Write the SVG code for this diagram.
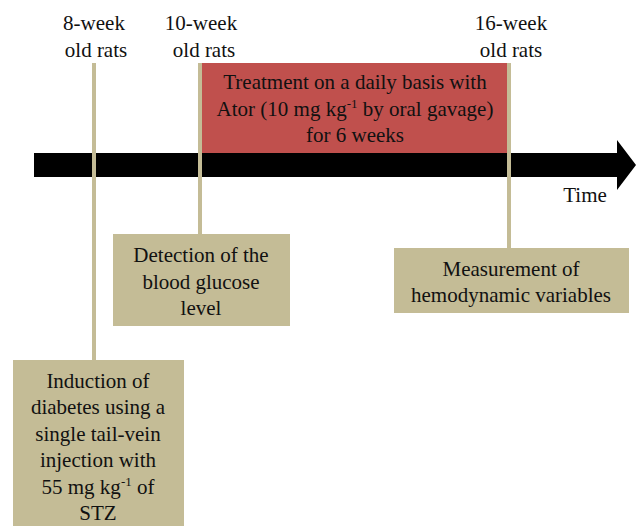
<svg xmlns="http://www.w3.org/2000/svg" width="636" height="526" viewBox="0 0 636 526">
<style>
.box{fill:#c4bc96}
.ln{stroke:#c4bc96;stroke-width:4;fill:none}
</style>
<rect width="636" height="526" fill="#fff"/>
<g font-size="21" fill="#111" text-anchor="middle">
<g id="treatment">
<rect x="201" y="63" width="308" height="92" fill="#c0504d"/>
<text font-family="Liberation Serif" x="355" y="89">Treatment on a daily basis with</text>
<text font-family="Liberation Serif" x="355" y="116">Ator (10 mg kg<tspan font-size="13" dy="-8">-1</tspan><tspan dy="8"> by oral gavage)</tspan></text>
<text font-family="Liberation Serif" x="355" y="142">for 6 weeks</text>
</g>
<g id="timeline">
<polygon points="34,153 617,153 617,140 636,165 617,190 617,177 34,177" fill="#000"/>
<text font-family="Liberation Serif" x="585" y="202">Time</text>
</g>
<g id="connectors">
<line class="ln" x1="94" y1="63" x2="94" y2="361"/>
<line class="ln" x1="200" y1="63" x2="200" y2="235"/>
<line class="ln" x1="509" y1="63" x2="509" y2="249"/>
</g>
<g id="label8">
<text font-family="Liberation Serif" x="94" y="30">8-week</text>
<text font-family="Liberation Serif" x="96" y="57">old rats</text>
</g>
<g id="label10">
<text font-family="Liberation Serif" x="201" y="30">10-week</text>
<text font-family="Liberation Serif" x="204" y="57">old rats</text>
</g>
<g id="label16">
<text font-family="Liberation Serif" x="511" y="30">16-week</text>
<text font-family="Liberation Serif" x="511" y="57">old rats</text>
</g>
<g id="detection">
<rect class="box" x="113" y="234" width="177" height="92"/>
<text font-family="Liberation Serif" x="201" y="262">Detection of the</text>
<text font-family="Liberation Serif" x="201" y="289">blood glucose</text>
<text font-family="Liberation Serif" x="201" y="315">level</text>
</g>
<g id="induction">
<rect class="box" x="13" y="360" width="171" height="166"/>
<text font-family="Liberation Serif" x="98" y="388">Induction of</text>
<text font-family="Liberation Serif" x="98" y="414">diabetes using a</text>
<text font-family="Liberation Serif" x="98" y="441">single tail-vein</text>
<text font-family="Liberation Serif" x="98" y="467">injection with</text>
<text font-family="Liberation Serif" x="98" y="494">55 mg kg<tspan font-size="13" dy="-8">-1</tspan><tspan dy="8"> of</tspan></text>
<text font-family="Liberation Serif" x="98" y="520">STZ</text>
</g>
<g id="measurement">
<rect class="box" x="394" y="248" width="235" height="65"/>
<text font-family="Liberation Serif" x="511" y="276">Measurement of</text>
<text font-family="Liberation Serif" x="511" y="302">hemodynamic variables</text>
</g>
</g>
</svg>
